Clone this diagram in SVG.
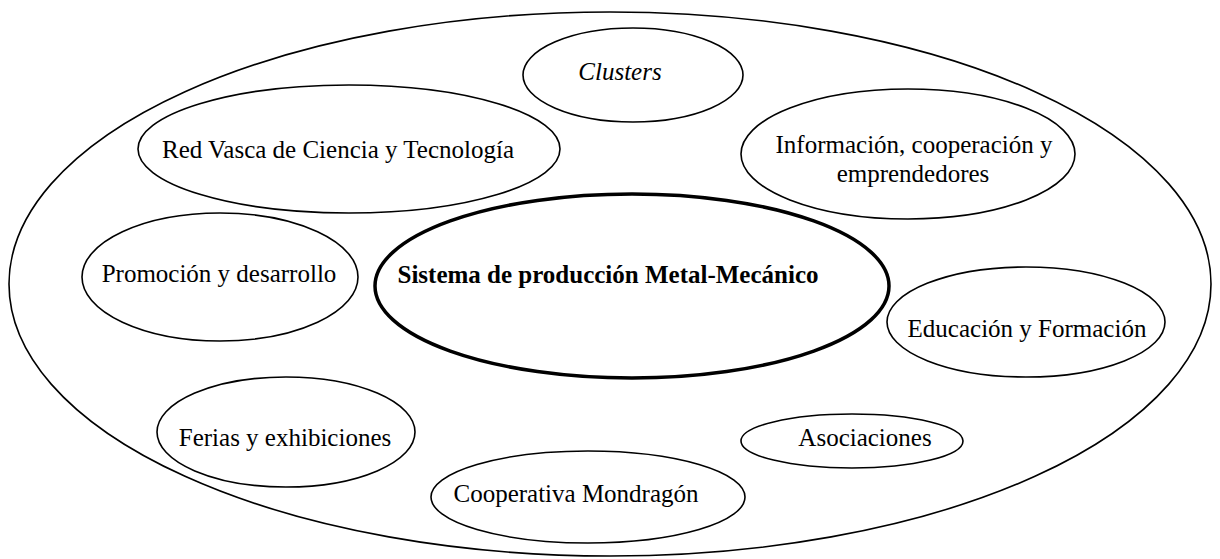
<svg xmlns="http://www.w3.org/2000/svg" width="1220" height="559" viewBox="0 0 1220 559">
<style>
.e{fill:none;stroke:#000;stroke-width:1.6}
.b{fill:none;stroke:#000;stroke-width:3.5}
.t{font-family:"Liberation Serif","Times New Roman",serif;font-size:25px;fill:#000;text-anchor:middle}
</style>
<rect width="1220" height="559" fill="#fff"/>
<g id="outer"><ellipse class="e" cx="610" cy="284" rx="601" ry="272"/></g>
<g id="clusters"><ellipse class="e" cx="633" cy="75" rx="110" ry="47"/><text class="t" x="620" y="80" font-style="italic">Clusters</text></g>
<g id="redvasca"><ellipse class="e" cx="349" cy="149" rx="211" ry="64"/><text class="t" x="338" y="158">Red Vasca de Ciencia y Tecnología</text></g>
<g id="informacion"><ellipse class="e" cx="908" cy="154" rx="167" ry="65"/><text class="t" x="914" y="153">Información, cooperación y</text><text class="t" x="913" y="182">emprendedores</text></g>
<g id="promocion"><ellipse class="e" cx="220" cy="277" rx="138" ry="64"/><text class="t" x="219" y="282">Promoción y desarrollo</text></g>
<g id="sistema"><ellipse class="b" cx="632" cy="286" rx="257" ry="92"/><text class="t" x="608" y="283" font-weight="bold">Sistema de producción Metal-Mecánico</text></g>
<g id="educacion"><ellipse class="e" cx="1026" cy="322" rx="139" ry="55"/><text class="t" x="1027" y="337">Educación y Formación</text></g>
<g id="ferias"><ellipse class="e" cx="286" cy="432" rx="129" ry="55"/><text class="t" x="285" y="446">Ferias y exhibiciones</text></g>
<g id="asociaciones"><ellipse class="e" cx="852" cy="441" rx="111" ry="27"/><text class="t" x="865" y="446">Asociaciones</text></g>
<g id="cooperativa"><ellipse class="e" cx="588" cy="497" rx="157" ry="46"/><text class="t" x="576" y="502">Cooperativa Mondragón</text></g>
<g id="connectors"/>
</svg>
